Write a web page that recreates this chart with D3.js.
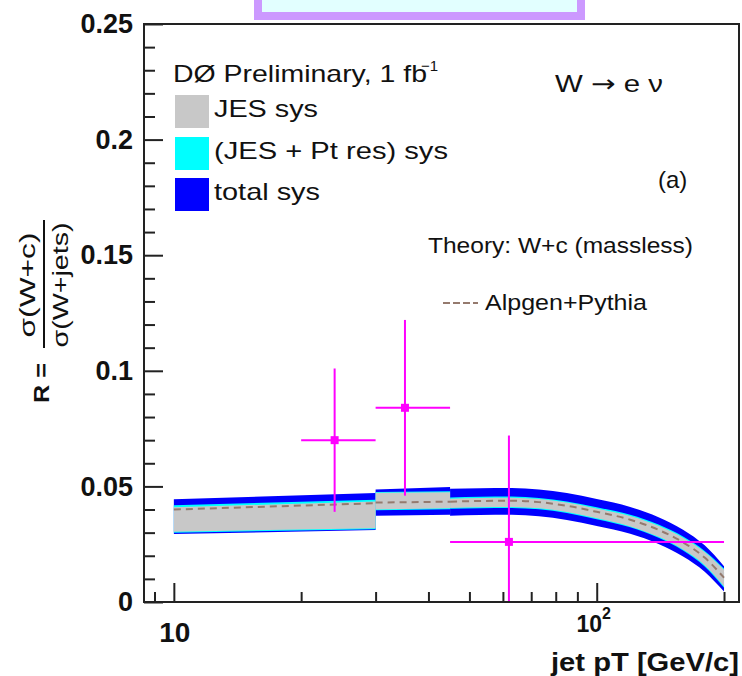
<!DOCTYPE html>
<html>
<head>
<meta charset="utf-8">
<script src="https://cdn.jsdelivr.net/npm/d3@7"></script>
<style>
  body { margin: 0; background: #fff; }
  svg { display: block; font-family: "Liberation Sans", Arial, sans-serif; }
</style>
</head>
<body>
<svg id="chart" width="742" height="676"></svg>
<script>
// measured ratio per jet pT bin
const binCenter = [24, 35.2, 62]
const binLow = [20, 30, 45]
const binHigh = [30, 45, 200]
const ratio = [0.070, 0.084, 0.026]
const ratioErr = [0.031, 0.038, 0.046]

// theory (Alpgen+Pythia) with its systematic bands, three pieces a/b/c
const thSeg = ["a", "a", "b", "b", "c", "c", "c", "c", "c", "c", "c", "c", "c", "c", "c"]
const thPt  = [10, 30, 30, 45, 45, 53, 63, 73, 85, 100, 120, 140, 160, 180, 200]
const thR   = [0.0400, 0.0427, 0.0430, 0.0434, 0.0434, 0.0437, 0.0438, 0.0432, 0.0416, 0.0390, 0.0356, 0.0312, 0.0258, 0.0192, 0.0105]
const jesLo = [0.0304, 0.0319, 0.0400, 0.0406, 0.0407, 0.0410, 0.0411, 0.0405, 0.0389, 0.0362, 0.0327, 0.0282, 0.0227, 0.0159, 0.0067]
const jesHi = [0.0410, 0.0435, 0.0473, 0.0475, 0.0447, 0.0450, 0.0451, 0.0445, 0.0430, 0.0404, 0.0372, 0.0330, 0.0278, 0.0216, 0.0139]
const ptLo  = [0.0300, 0.0315, 0.0397, 0.0401, 0.0403, 0.0406, 0.0407, 0.0401, 0.0385, 0.0358, 0.0323, 0.0278, 0.0223, 0.0154, 0.0062]
const ptHi  = [0.0419, 0.0442, 0.0476, 0.0479, 0.0452, 0.0455, 0.0456, 0.0450, 0.0435, 0.0410, 0.0377, 0.0335, 0.0283, 0.0221, 0.0145]
const totLo = [0.0294, 0.0311, 0.0373, 0.0377, 0.0373, 0.0376, 0.0377, 0.0371, 0.0355, 0.0329, 0.0295, 0.0251, 0.0197, 0.0131, 0.0045]
const totHi = [0.0444, 0.0471, 0.0487, 0.0497, 0.0490, 0.0492, 0.0493, 0.0487, 0.0471, 0.0445, 0.0411, 0.0367, 0.0313, 0.0245, 0.0155]

// ticks
const xMajor = [10, 100]
const xMinor = [9, 20, 30, 40, 50, 60, 70, 80, 90, 200]
const yMajor = [0, 0.05, 0.1, 0.15, 0.2, 0.25]
const yMajorLabels = ["0", "0.05", "0.1", "0.15", "0.2", "0.25"]
const yMinor = [0.01, 0.02, 0.03, 0.04, 0.06, 0.07, 0.08, 0.09, 0.11, 0.12, 0.13, 0.14,
                0.16, 0.17, 0.18, 0.19, 0.21, 0.22, 0.23, 0.24]

const legendNames = ["JES sys", "(JES + Pt res) sys", "total sys"]
const legendColors = ["#c8c8c8", "#00ffff", "#0000ff"]

const padL = 144, padR = 739, padT = 24, padB = 602

const svg = d3.select("#chart")

const x = d3.scaleLog().domain([8.5, 217]).range([padL, padR])
const y = d3.scaleLinear().domain([0, 0.25]).range([padB, padT])

// small helper for text; textLength squeezes/stretches to the measured width
function txt(parent, str, px, py, size, opts = {}) {
  const t = parent.append("text")
    .attr("x", px)
    .attr("y", py)
    .attr("font-size", size)
    .attr("font-weight", opts.weight || "normal")
    .attr("text-anchor", opts.anchor || "start")
    .attr("fill", opts.fill || "#111")
    .text(str)
  if (opts.len) t.attr("textLength", opts.len).attr("lengthAdjust", "spacingAndGlyphs")
  return t
}

// title box cut off at the top of the canvas
svg.append("rect")
  .attr("x", 258).attr("y", -10)
  .attr("width", 323).attr("height", 26)
  .attr("fill", "#e2ffff")
  .attr("stroke", "#cc99ff")
  .attr("stroke-width", 8)

svg.append("clipPath").attr("id", "plotclip")
  .append("rect")
  .attr("x", padL).attr("y", padT)
  .attr("width", padR - padL).attr("height", padB - padT)

const plot = svg.append("g").attr("clip-path", "url(#plotclip)")

// theory bands, drawn piece by piece so the steps at 30 and 45 GeV stay sharp
const idx = d3.range(thPt.length)
const pieces = d3.groups(idx, i => thSeg[i])

function band(lo, hi, color) {
  pieces.forEach(([seg, ids]) => {
    plot.append("path")
      .datum(ids)
      .attr("fill", color)
      .attr("d", d3.area()
        .x(i => x(thPt[i]))
        .y0(i => y(lo[i]))
        .y1(i => y(hi[i]))
        .curve(seg == "c" ? d3.curveMonotoneX : d3.curveLinear))
  })
}
band(totLo, totHi, legendColors[2])
band(ptLo, ptHi, legendColors[1])
band(jesLo, jesHi, legendColors[0])

pieces.forEach(([seg, ids]) => {
  plot.append("path")
    .datum(ids)
    .attr("fill", "none")
    .attr("stroke", "#957a6e")
    .attr("stroke-width", 2)
    .attr("stroke-dasharray", "7,5")
    .attr("d", d3.line()
      .x(i => x(thPt[i]))
      .y(i => y(thR[i]))
      .curve(seg == "c" ? d3.curveMonotoneX : d3.curveLinear))
})

// data points with error bars
const pts = plot.append("g")
  .selectAll("g")
  .data(d3.range(ratio.length))
  .join("g")

pts.append("line")
  .attr("x1", i => x(binLow[i])).attr("x2", i => x(binHigh[i]))
  .attr("y1", i => y(ratio[i])).attr("y2", i => y(ratio[i]))
  .attr("stroke", "#ff00ff").attr("stroke-width", 2)
pts.append("line")
  .attr("x1", i => x(binCenter[i])).attr("x2", i => x(binCenter[i]))
  .attr("y1", i => y(ratio[i] - ratioErr[i])).attr("y2", i => y(ratio[i] + ratioErr[i]))
  .attr("stroke", "#ff00ff").attr("stroke-width", 2)
pts.append("rect")
  .attr("x", i => x(binCenter[i]) - 4).attr("y", i => y(ratio[i]) - 4)
  .attr("width", 8).attr("height", 8)
  .attr("fill", "#ff00ff")

// axes (ticks point inwards)
function styleAxis(g) {
  g.select(".domain").remove()
  g.selectAll(".tick line").attr("stroke", "#222").attr("stroke-width", 2)
}

svg.append("g")
  .attr("transform", `translate(0,${padB})`)
  .call(d3.axisBottom(x).tickValues(xMinor).tickSizeInner(-10).tickSizeOuter(0).tickFormat(""))
  .call(styleAxis)
svg.append("g")
  .attr("transform", `translate(0,${padB})`)
  .call(d3.axisBottom(x).tickValues(xMajor).tickSizeInner(-19).tickSizeOuter(0).tickFormat(""))
  .call(styleAxis)

svg.append("g")
  .attr("transform", `translate(${padL},0)`)
  .call(d3.axisLeft(y).tickValues(yMinor).tickSizeInner(-11).tickSizeOuter(0).tickFormat(""))
  .call(styleAxis)
svg.append("g")
  .attr("transform", `translate(${padL},0)`)
  .call(d3.axisLeft(y).tickValues(yMajor).tickSizeInner(-19).tickSizeOuter(0)
    .tickPadding(11)
    .tickFormat((d, i) => yMajorLabels[i]))
  .call(styleAxis)
  .call(g => g.selectAll(".tick text")
    .attr("font-family", "Liberation Sans, Arial, sans-serif")
    .attr("font-size", 27)
    .attr("font-weight", "bold")
    .attr("fill", "#111"))

// frame
svg.append("rect")
  .attr("x", padL).attr("y", padT)
  .attr("width", padR - padL).attr("height", padB - padT)
  .attr("fill", "none")
  .attr("stroke", "#222")
  .attr("stroke-width", 2)

// x tick labels
txt(svg, "10", x(10) + 1, 642, 28, { weight: "bold", anchor: "middle" })
const hundred = txt(svg, "10", x(100) - 3, 632, 23, { weight: "bold", anchor: "middle" })
hundred.append("tspan").attr("font-size", 16).attr("dy", -13).text("2")

txt(svg, "jet pT [GeV/c]", 739, 671, 25, { weight: "bold", anchor: "end", len: 188 })

// y axis title, a fraction turned on its side
const ytitle = svg.append("g")
ytitle.append("text")
  .attr("transform", "translate(49,383) rotate(-90)")
  .attr("text-anchor", "middle")
  .attr("font-size", 22).attr("font-weight", "bold").attr("fill", "#111")
  .attr("textLength", 40).attr("lengthAdjust", "spacingAndGlyphs")
  .text("R =")
ytitle.append("text")
  .attr("transform", "translate(35,285) rotate(-90)")
  .attr("text-anchor", "middle")
  .attr("font-size", 22).attr("fill", "#111")
  .attr("textLength", 105).attr("lengthAdjust", "spacingAndGlyphs")
  .text("σ(W+c)")
ytitle.append("text")
  .attr("transform", "translate(68,285) rotate(-90)")
  .attr("text-anchor", "middle")
  .attr("font-size", 22).attr("fill", "#111")
  .attr("textLength", 125).attr("lengthAdjust", "spacingAndGlyphs")
  .text("σ(W+jets)")
ytitle.append("line")
  .attr("x1", 44).attr("x2", 44)
  .attr("y1", 220).attr("y2", 348)
  .attr("stroke", "#111").attr("stroke-width", 2)

// legend
txt(svg, "DØ Preliminary, 1 fb", 173, 82, 24, { len: 254 })
txt(svg, "−1", 438, 71, 15, { anchor: "end" })

const leg = svg.append("g")
  .selectAll("g")
  .data(legendNames)
  .join("g")
  .attr("transform", (d, i) => `translate(0,${[95, 137, 178][i]})`)
leg.append("rect")
  .attr("x", 175).attr("width", 34).attr("height", 33)
  .attr("fill", (d, i) => legendColors[i])
leg.append("text")
  .attr("x", 214).attr("y", 22)
  .attr("font-size", 24).attr("fill", "#111")
  .attr("textLength", (d, i) => [104, 234, 106][i])
  .attr("lengthAdjust", "spacingAndGlyphs")
  .text(d => d)

const wtxt = txt(svg, "W ", 555, 92, 24, { len: 108 })
wtxt.append("tspan").attr("font-family", "DejaVu Sans").text("→")
wtxt.append("tspan").text(" e ν")
txt(svg, "(a)", 658, 188, 24)
txt(svg, "Theory: W+c (massless)", 428, 253, 22, { len: 265 })

svg.append("line")
  .attr("x1", 443).attr("x2", 478)
  .attr("y1", 303).attr("y2", 303)
  .attr("stroke", "#957a6e").attr("stroke-width", 2)
  .attr("stroke-dasharray", "7,3")
txt(svg, "Alpgen+Pythia", 485, 310, 22, { len: 162 })
</script>
</body>
</html>
